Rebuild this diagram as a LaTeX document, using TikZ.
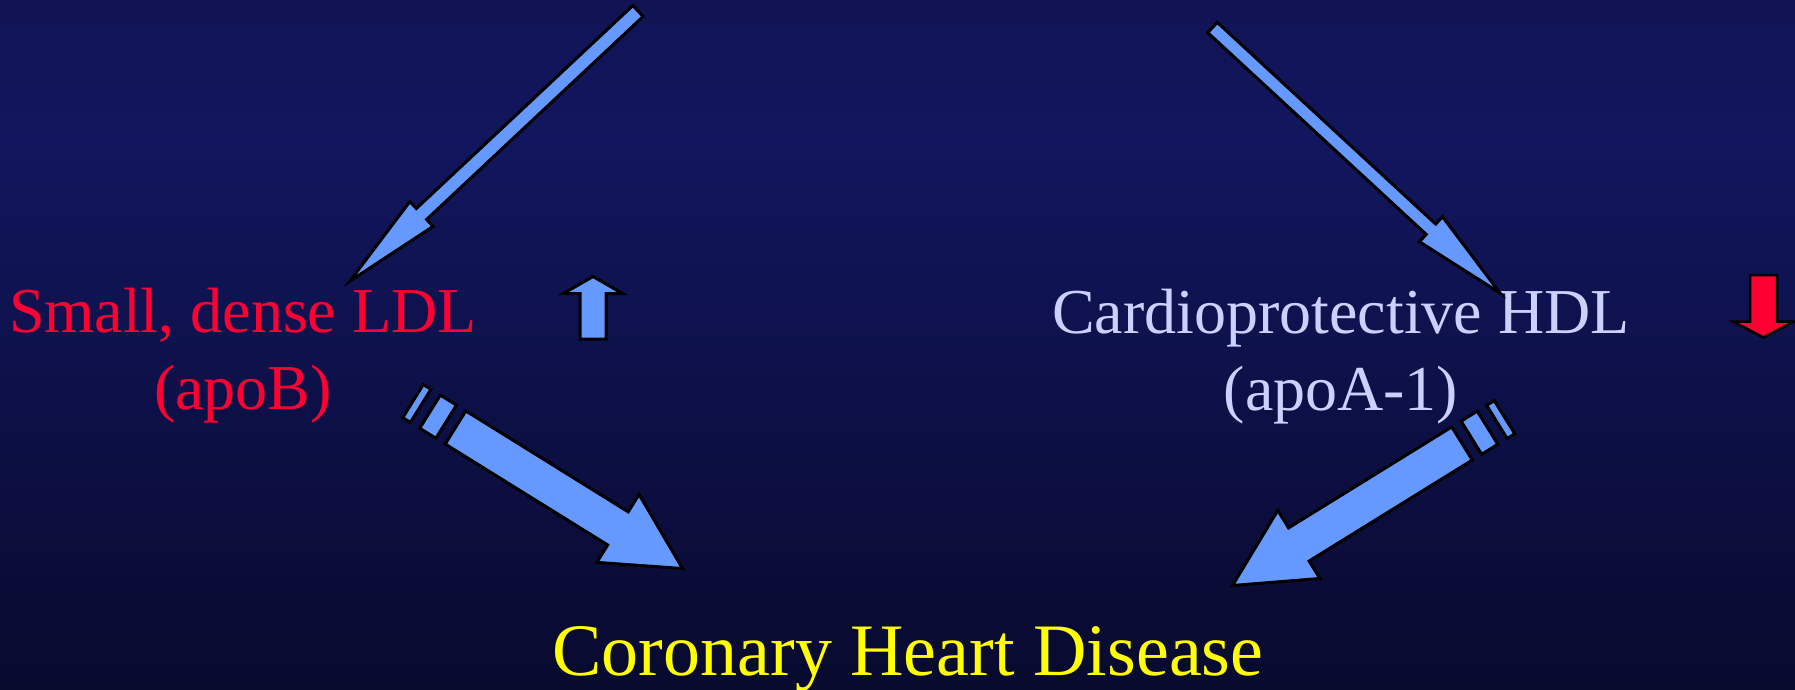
\documentclass[tikz,border=0pt]{standalone}
\usepackage{fontspec}
\setmainfont{Liberation Serif}
\usepackage{xcolor}
\usetikzlibrary{calc}
\definecolor{arrowfill}{RGB}{102, 153, 255}
\definecolor{ldlred}{RGB}{255, 0, 51}
\definecolor{hdllilac}{RGB}{204, 208, 255}
\definecolor{chdyellow}{RGB}{255, 255, 0}
\definecolor{bgtop}{RGB}{17, 19, 84}
\definecolor{bgmid}{RGB}{18, 22, 94}
\definecolor{bgbot}{RGB}{8, 10, 46}
\pgfdeclareverticalshading{slidebg}{100bp}{color(0bp)=(bgbot); color(25bp)=(bgbot); color(65bp)=(bgmid); color(75bp)=(bgtop); color(100bp)=(bgtop)}
\tikzset{
  labeltext/.style={align=center, inner sep=0pt, font=\fontsize{64}{77}\selectfont},
  titletext/.style={inner sep=0pt, font=\fontsize{74}{89}\selectfont, text=chdyellow},
  arrowshape/.style={draw=black, fill=arrowfill, line width=3pt, line join=miter},
  redarrow/.style={arrowshape, fill=ldlred, line width=2.5pt}
}
% block arrow: [style]{from}{to}{shaft half width}{head half width}{head length}
\newcommand{\blockarrow}[6][]{%
  \draw[arrowshape, #1] ($(#2)!#4!90:(#3)$) -- ($(#3)!#6!(#2)!#4!-90:(#2)$)
    -- ($(#3)!#6!(#2)!#5!-90:(#2)$) -- (#3) -- ($(#3)!#6!(#2)!#5!90:(#2)$)
    -- ($(#3)!#6!(#2)!#4!90:(#2)$) -- ($(#2)!#4!-90:(#3)$) -- cycle;
}
% one stripe behind the tail: {from}{to}{near}{far}{half width}
\newcommand{\tailstripe}[5]{%
  \draw[arrowshape] ($(#1)!-#3!(#2)!#5!90:(#2)$) -- ($(#1)!-#4!(#2)!#5!90:(#2)$)
    -- ($(#1)!-#4!(#2)!#5!-90:(#2)$) -- ($(#1)!-#3!(#2)!#5!-90:(#2)$) -- cycle;
}
\newcommand{\stripedarrow}[5]{%
  \blockarrow{#1}{#2}{#3}{#4}{#5}
  \tailstripe{#1}{#2}{11pt}{30pt}{#3}
  \tailstripe{#1}{#2}{41pt}{50pt}{#3}
}

\begin{document}
\begin{tikzpicture}[x=1pt, y=-1pt]
  \useasboundingbox (0,0) rectangle (1795,690);
  \shade[shading=slidebg] (0,0) rectangle (1795,690);

  % texts
  \node[labeltext, text=ldlred, anchor=base] (ldl) at (243,409) {Small, dense LDL\\(apoB)};
  \node[labeltext, text=hdllilac, anchor=base] (hdl) at (1341,410) {Cardioprotective HDL\\(apoA-1)};
  \node[titletext, anchor=base] (chd) at (908,675) {Coronary Heart Disease};

  % arrow ends
  \coordinate (ldlin) at (638,11);
  \coordinate (ldltip) at (350,281);
  \coordinate (hdlin) at (1212.5,27.5);
  \coordinate (hdltip) at (1500,293);
  \coordinate (ldlout) at (455.5,427.5);
  \coordinate (chdleft) at (682.5,568.5);
  \coordinate (hdlout) at (1462,443.5);
  \coordinate (chdright) at (1232.5,585.5);
  \coordinate (upbase) at (593,339);
  \coordinate (uptip) at (593,276.5);
  \coordinate (downbase) at (1763.5,275);
  \coordinate (downtip) at (1763.5,337.5);

  \blockarrow{ldlin}{ldltip}{7.5pt}{17pt}{98pt}
  \blockarrow{hdlin}{hdltip}{7pt}{17pt}{94pt}
  \stripedarrow{ldlout}{chdleft}{19.5pt}{40pt}{76pt}
  \stripedarrow{hdlout}{chdright}{19.5pt}{40pt}{78pt}
  \blockarrow{upbase}{uptip}{13pt}{29.5pt}{17pt}
  \blockarrow[redarrow]{downbase}{downtip}{13.5pt}{30.5pt}{16pt}
\end{tikzpicture}
\end{document}
